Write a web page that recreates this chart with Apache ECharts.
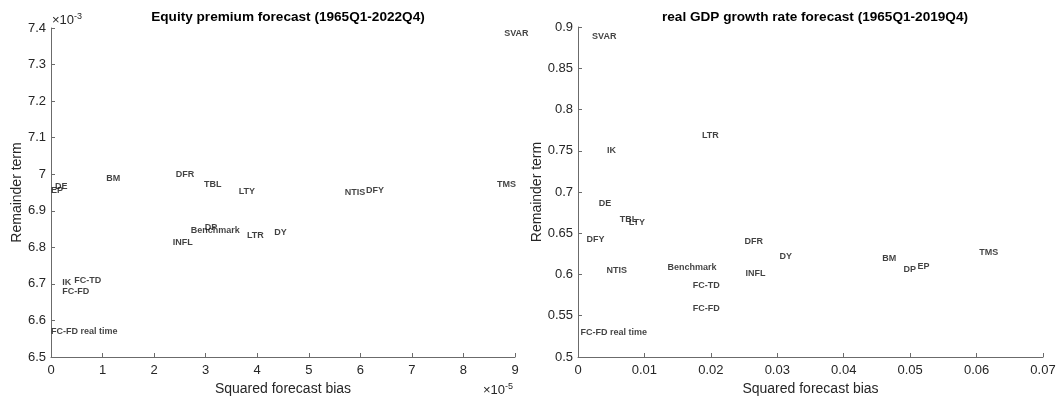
<!DOCTYPE html>
<html>
<head>
<meta charset="utf-8">
<script src="https://cdn.jsdelivr.net/npm/echarts@6/dist/echarts.min.js"></script>
<style>html,body{margin:0;padding:0;background:#fff}#c{width:1057px;height:398px}</style>
</head>
<body>
<div id="c"></div>
<script>
// Left panel: Equity premium (x in units of 1e-5, y in units of 1e-3)
const equityLabels = ['SVAR','BM','DFR','TBL','LTY','DE','EP','NTIS','DFY','TMS','DP','Benchmark','LTR','DY','INFL','IK','FC-TD','FC-FD','FC-FD real time'];
const equityBiasE5 = [8.79,1.07,2.42,2.97,3.64,0.08,0.0,5.70,6.11,8.65,2.98,2.71,3.80,4.33,2.36,0.22,0.45,0.22,0.0];
const equityRemE3 = [7.384,6.989,7.000,6.972,6.953,6.966,6.955,6.949,6.955,6.973,6.854,6.845,6.832,6.841,6.814,6.704,6.708,6.679,6.569];
const equityXTicks = [0,1,2,3,4,5,6,7,8,9];
const equityYTicks = [6.5,6.6,6.7,6.8,6.9,7,7.1,7.2,7.3,7.4];

// Right panel: real GDP growth
const gdpLabels = ['SVAR','IK','LTR','DE','TBL','LTY','DFY','NTIS','Benchmark','FC-TD','FC-FD','FC-FD real time','DFR','INFL','DY','BM','DP','EP','TMS'];
const gdpBias = [0.00212,0.00438,0.01866,0.00313,0.00629,0.00764,0.00128,0.00429,0.01346,0.01726,0.01726,0.00038,0.02508,0.02523,0.03035,0.0458,0.0490,0.0511,0.0604];
const gdpRem = [0.888,0.7505,0.768,0.6863,0.667,0.6628,0.6418,0.605,0.6087,0.5869,0.559,0.5295,0.6398,0.601,0.6212,0.619,0.6063,0.6095,0.6264];
const gdpXTicks = [0,0.01,0.02,0.03,0.04,0.05,0.06,0.07];
const gdpYTicks = [0.5,0.55,0.6,0.65,0.7,0.75,0.8,0.85,0.9];

const FONT = '"Liberation Sans", Arial, Helvetica, sans-serif';
const AX = '#6b6b6b';
const TXT = '#262626';

function xAxis(idx, ticks) {
  return {
    gridIndex: idx, type: 'value',
    min: ticks[0], max: ticks[ticks.length-1], interval: ticks[1]-ticks[0],
    name: 'Squared forecast bias', nameLocation: 'middle', nameGap: 21,
    nameTextStyle: {fontFamily: FONT, fontSize: 14, color: TXT},
    axisLine: {show: true, onZero: false, lineStyle: {color: AX, width: 1}},
    axisTick: {show: true, inside: true, length: 4, lineStyle: {color: AX}},
    axisLabel: {fontFamily: FONT, fontSize: 13, color: TXT, margin: 7,
      formatter: v => String(+v.toFixed(4))},
    splitLine: {show: false}
  };
}
function yAxis(idx, ticks) {
  return {
    gridIndex: idx, type: 'value',
    min: ticks[0], max: ticks[ticks.length-1], interval: +(ticks[1]-ticks[0]).toFixed(4),
    name: 'Remainder term', nameLocation: 'middle', nameGap: 24, nameRotate: 90,
    nameTextStyle: {fontFamily: FONT, fontSize: 14, color: TXT},
    axisLine: {show: true, onZero: false, lineStyle: {color: AX, width: 1}},
    axisTick: {show: true, inside: true, length: 4, lineStyle: {color: AX}},
    axisLabel: {fontFamily: FONT, fontSize: 13, color: TXT, margin: 5,
      formatter: v => String(+v.toFixed(4))},
    splitLine: {show: false}
  };
}
function textSeries(idx, xs, ys, labels) {
  return {
    type: 'scatter', xAxisIndex: idx, yAxisIndex: idx,
    symbolSize: 0, silent: true,
    data: xs.map((x, i) => ({value: [x, ys[i]], name: labels[i]})),
    label: {show: true, position: 'right', distance: 0, formatter: p => p.name,
      fontFamily: FONT, fontSize: 9, fontWeight: 'bold', color: '#111',
      align: 'left', verticalAlign: 'middle'},
    labelLayout: {hideOverlap: false}
  };
}

const chart = echarts.init(document.getElementById('c'), null, {renderer: 'canvas'});
chart.setOption({
  animation: false,
  backgroundColor: '#fff',
  title: [
    {text: 'Equity premium forecast (1965Q1-2022Q4)', left: 283, top: 5, textAlign: 'center',
     textStyle: {fontFamily: FONT, fontSize: 13.6, fontWeight: 'bold', color: '#000'}},
    {text: 'real GDP growth rate forecast (1965Q1-2019Q4)', left: 810, top: 5, textAlign: 'center',
     textStyle: {fontFamily: FONT, fontSize: 13.6, fontWeight: 'bold', color: '#000'}}
  ],
  grid: [
    {left: 51, right: 542, top: 28, bottom: 41, containLabel: false, outerBoundsMode: 'none'},
    {left: 578, right: 14, top: 27, bottom: 41, containLabel: false, outerBoundsMode: 'none'}
  ],
  xAxis: [xAxis(0, equityXTicks), xAxis(1, gdpXTicks)],
  yAxis: [yAxis(0, equityYTicks), yAxis(1, gdpYTicks)],
  series: [
    textSeries(0, equityBiasE5, equityRemE3, equityLabels),
    textSeries(1, gdpBias, gdpRem, gdpLabels)
  ],
  graphic: [
    {type: 'text', left: 52, top: 12, style: {
      text: '{a|×10}{b|-3}', rich: {
        a: {fontFamily: FONT, fontSize: 13, fill: TXT, verticalAlign: 'bottom'},
        b: {fontFamily: FONT, fontSize: 9, fill: TXT, verticalAlign: 'top', padding: [0,0,6,0]}
      }}},
    {type: 'text', left: 483, top: 382, style: {
      text: '{a|×10}{b|-5}', rich: {
        a: {fontFamily: FONT, fontSize: 13, fill: TXT, verticalAlign: 'bottom'},
        b: {fontFamily: FONT, fontSize: 9, fill: TXT, verticalAlign: 'top', padding: [0,0,6,0]}
      }}}
  ]
});
</script>
</body>
</html>
